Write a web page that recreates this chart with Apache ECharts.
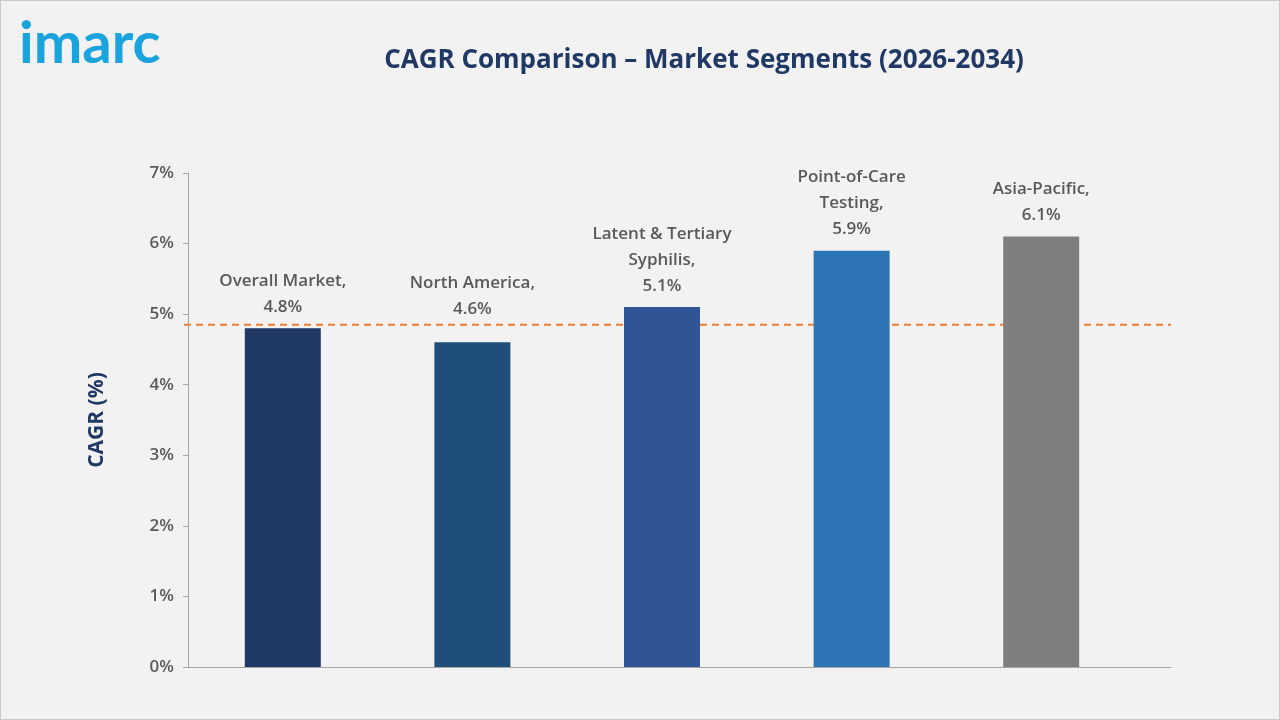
<!DOCTYPE html>
<html><head><meta charset="utf-8">
<script src="https://cdn.jsdelivr.net/npm/echarts@6/dist/echarts.min.js"></script>
<style>html,body{margin:0;padding:0;background:#fff}#c{width:1278px;height:718px;border:1px solid #c9c9c9}</style>
</head><body><div id="c"></div>
<script>
const categories = ["Overall Market,\n4.8%", "North America,\n4.6%", "Latent & Tertiary\nSyphilis,\n5.1%", "Point-of-Care\nTesting,\n5.9%", "Asia-Pacific,\n6.1%"];
const values = [4.8, 4.6, 5.1, 5.9, 6.1];
const barColors = ["#1F3864", "#1F4E79", "#2F5597", "#2E75B6", "#7F7F7F"];
const labelGaps = [8, 20, 8, 8, 8];
const refLine = 4.85;

const chart = echarts.init(document.getElementById("c"));
chart.setOption({
  backgroundColor: "#F2F2F2",
  graphic: [{
    type: "text", left: 18, top: 14,
    style: { text: "imarc", fill: "#1AA3DC", font: "bold 58px Lato, sans-serif" }
  }],
  title: {
    text: "CAGR Comparison \u2013 Market Segments (2026-2034)",
    left: 698, top: 42, textAlign: "center",
    textStyle: { color: "#1F3864", fontSize: 26, fontWeight: "bold", fontFamily: "Open Sans, sans-serif" }
  },
  grid: [
    { left: 187, right: 143, top: 172, bottom: 52 },
    { left: 183, right: 108, top: 172, bottom: 52 }
  ],
  xAxis: [
    { type: "category", data: categories, gridIndex: 0, axisLine: { show: false }, axisTick: { show: false }, axisLabel: { show: false } },
    { type: "value", min: 0, max: 1, gridIndex: 1, axisLine: { show: true, onZero: false, lineStyle: { color: "#A6A6A6" } }, axisTick: { show: false }, axisLabel: { show: false }, splitLine: { show: false } }
  ],
  yAxis: [
    { type: "value", min: 0, max: 7, interval: 1, gridIndex: 0,
      name: "CAGR (%)", nameLocation: "middle", nameGap: 80, nameRotate: 90,
      nameTextStyle: { color: "#1F3864", fontSize: 21, fontWeight: "bold", fontFamily: "Open Sans, sans-serif" },
      axisLine: { show: true, lineStyle: { color: "#A6A6A6" } },
      axisTick: { show: true, length: 5, lineStyle: { color: "#A6A6A6" } },
      axisLabel: { formatter: "{value}%", color: "#595959", fontSize: 17, fontWeight: 600, margin: 14, fontFamily: "Open Sans, sans-serif" },
      splitLine: { show: false } },
    { type: "value", min: 0, max: 7, gridIndex: 1, show: false }
  ],
  series: [
    { type: "bar", xAxisIndex: 0, yAxisIndex: 0, barWidth: 76,
      data: values.map((v, i) => ({ value: v, itemStyle: { color: barColors[i] },
        label: { distance: labelGaps[i] } })),
      label: { show: true, position: "top", color: "#595959", fontSize: 17, fontWeight: 600, lineHeight: 26,
        fontFamily: "Open Sans, sans-serif", formatter: p => categories[p.dataIndex] } },
    { type: "line", xAxisIndex: 1, yAxisIndex: 1, symbol: "none", silent: true, z: 1,
      data: [[0, refLine], [1, refLine]],
      lineStyle: { color: "#ED7D31", type: [7, 5], width: 2 } }
  ]
});
</script></body></html>
